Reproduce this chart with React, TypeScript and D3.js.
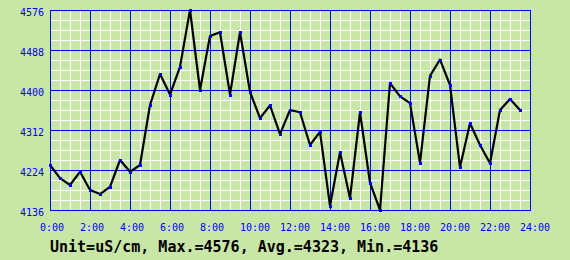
import React from "react";
import * as d3 from "d3";

const hours: number[] = [0, 2, 4, 6, 8, 10, 12, 14, 16, 18, 20, 22, 24];
const hourLabels: string[] = ["0:00", "2:00", "4:00", "6:00", "8:00", "10:00", "12:00", "14:00", "16:00", "18:00", "20:00", "22:00", "24:00"];
const yTicks: number[] = [4136, 4224, 4312, 4400, 4488, 4576];
const sampleTimes: number[] = d3.range(0, 24, 0.5);
const values: number[] = [
  4235, 4206, 4191, 4220, 4180, 4171, 4187, 4246, 4220, 4235,
  4367, 4435, 4390, 4451, 4576, 4400, 4519, 4527, 4390, 4527,
  4396, 4338, 4366, 4303, 4356, 4351, 4279, 4308, 4145, 4263,
  4162, 4351, 4196, 4136, 4415, 4386, 4371, 4240, 4431, 4467,
  4411, 4230, 4327, 4279, 4239, 4356, 4380, 4356,
];
const summary = "Unit=uS/cm, Max.=4576, Avg.=4323, Min.=4136";

const W = 570, H = 260;
const L = 50, R = 530, T = 10, B = 210;
const BG = "#C8E6A5";
const BLUE = "#0000FF";
const FONT = "'DejaVu Sans Mono', monospace";

export default function App() {
  const x = d3.scaleLinear().domain([0, 24]).range([L, R]);
  const y = d3.scaleLinear().domain([4136, 4576]).range([B, T]);
  const minorX = d3.range(0, 24.001, 0.5);
  const minorY = d3.range(0, 20.001, 1).map((i) => 4136 + (i * 440) / 20);
  const pts: [number, number][] = values.map((v, i) => [sampleTimes[i], v]);
  const line = d3.line<[number, number]>().x((d) => x(d[0])).y((d) => y(d[1]));
  return (
    <svg width={W} height={H} style={{ position: "absolute", left: 0, top: 0, display: "block" }}>
      <rect x={0} y={0} width={W} height={H} fill={BG} />
      <g shapeRendering="crispEdges">
        {minorX.map((h, i) => (
          <line key={"mx" + i} x1={Math.round(x(h)) + 0.5} x2={Math.round(x(h)) + 0.5} y1={T} y2={B} stroke="#fff" strokeWidth={1} />
        ))}
        {minorY.map((v, i) => (
          <line key={"my" + i} y1={Math.round(y(v)) + 0.5} y2={Math.round(y(v)) + 0.5} x1={L} x2={R} stroke="#fff" strokeWidth={1} />
        ))}
        {hours.map((h, i) => (
          <line key={"Mx" + i} x1={Math.round(x(h)) + 0.5} x2={Math.round(x(h)) + 0.5} y1={T} y2={B + 1} stroke={BLUE} strokeWidth={1} />
        ))}
        {yTicks.map((v, i) => (
          <line key={"My" + i} y1={Math.round(y(v)) + 0.5} y2={Math.round(y(v)) + 0.5} x1={L} x2={R + 1} stroke={BLUE} strokeWidth={1} />
        ))}
      </g>
      <path d={line(pts) || ""} fill="none" stroke="#000" strokeWidth={2.2} strokeLinejoin="round" />
      <g shapeRendering="crispEdges">
        {pts.map((p, i) => (
          <rect key={"p" + i} x={Math.round(x(p[0])) - 1} y={Math.round(y(p[1])) - 1} width={3} height={3} fill={BLUE} />
        ))}
      </g>
      {yTicks.map((v, i) => (
        <text key={"yt" + i} x={L - 6} y={y(v) + 5.5} textAnchor="end" fontFamily={FONT} fontSize={10} fill={BLUE}>
          {v}
        </text>
      ))}
      {hours.map((h, i) => (
        <text key={"xt" + i} x={x(h) - 10} y={231} textAnchor="start" fontFamily={FONT} fontSize={10} fill={BLUE}>
          {hourLabels[i]}
        </text>
      ))}
      <text x={L} y={252} fontFamily={FONT} fontSize={15} fontWeight="bold" fill="#000">
        {summary}
      </text>
    </svg>
  );
}
